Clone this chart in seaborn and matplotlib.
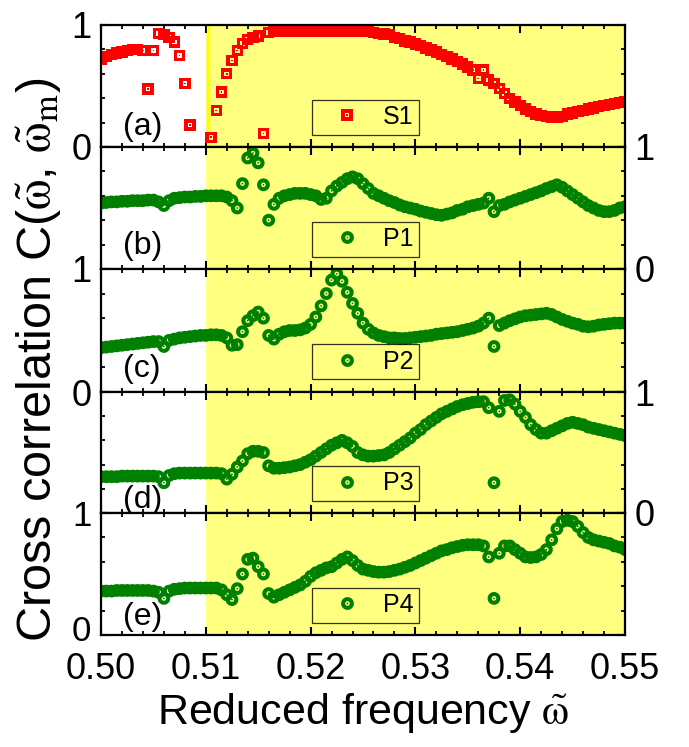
import numpy as np
import pandas as pd
import matplotlib
matplotlib.use("Agg")
import matplotlib.pyplot as plt
from matplotlib.path import Path
from matplotlib.lines import Line2D
from matplotlib.ticker import MultipleLocator, FixedLocator
from matplotlib.transforms import ScaledTranslation
import seaborn as sns

nan = np.nan

# frequency sweep grid (step 0.0005)
omega = np.linspace(0.50, 0.55, 101)

s1 = [0.72, 0.74, 0.76, 0.77, 0.78, 0.79, 0.80, 0.80, 0.79, 0.475,
      0.79, 0.93, 0.92, 0.90, 0.86, 0.75, 0.52, 0.18, nan, nan,
      nan, 0.08, 0.30, 0.45, 0.60, 0.71, 0.79, 0.85, 0.88, 0.90,
      0.91, 0.11, 0.94, 0.95, 0.95, 0.95, 0.95, 0.95, 0.95, 0.95,
      0.95, 0.95, 0.95, 0.95, 0.95, 0.95, 0.95, 0.95, 0.95, 0.95,
      0.95, 0.945, 0.94, 0.93, 0.925, 0.92, 0.90, 0.89, 0.87, 0.86,
      0.845, 0.83, 0.81, 0.795, 0.78, 0.76, 0.74, 0.72, 0.70, 0.68,
      0.655, 0.63, 0.56, 0.63, 0.55, 0.52, 0.48, 0.44, 0.40, 0.37,
      0.34, 0.31, 0.29, 0.27, 0.26, 0.25, 0.245, 0.24, 0.25, 0.27,
      0.28, 0.29, 0.30, 0.31, 0.32, 0.33, 0.34, 0.35, 0.355, 0.365,
      0.37]

p1 = [0.54, 0.545, 0.55, 0.55, 0.555, 0.555, 0.56, 0.56, 0.56, 0.565,
      0.565, 0.55, 0.52, 0.56, 0.58, 0.585, 0.59, 0.59, 0.595, 0.595,
      0.60, 0.60, 0.60, 0.60, 0.59, 0.56, 0.50, 0.70, 0.91, 0.95,
      0.87, 0.69, 0.40, 0.53, 0.58, 0.60, 0.61, 0.62, 0.62, 0.62,
      0.61, 0.60, 0.57, 0.58, 0.64, 0.68, 0.71, 0.74, 0.755, 0.74,
      0.70, 0.66, 0.62, 0.60, 0.58, 0.56, 0.545, 0.525, 0.51, 0.50,
      0.49, 0.475, 0.465, 0.455, 0.445, 0.44, 0.45, 0.46, 0.48, 0.49,
      0.51, 0.52, 0.53, 0.54, 0.58, 0.47, 0.52, 0.53, 0.55, 0.565,
      0.58, 0.595, 0.61, 0.625, 0.64, 0.66, 0.675, 0.69, 0.67, 0.64,
      0.61, 0.58, 0.55, 0.52, 0.50, 0.48, 0.47, 0.47, 0.48, 0.50,
      0.51]

p2 = [0.36, 0.365, 0.37, 0.375, 0.38, 0.385, 0.39, 0.395, 0.40, 0.405,
      0.41, 0.41, 0.37, 0.42, 0.43, 0.44, 0.445, 0.45, 0.455, 0.46,
      0.46, 0.465, 0.465, 0.46, 0.44, 0.38, 0.385, 0.49, 0.58, 0.62,
      0.65, 0.60, 0.46, 0.43, 0.47, 0.49, 0.50, 0.50, 0.505, 0.52,
      0.55, 0.61, 0.70, 0.80, 0.91, 0.96, 0.90, 0.81, 0.72, 0.64,
      0.56, 0.51, 0.48, 0.46, 0.45, 0.44, 0.44, 0.435, 0.435, 0.44,
      0.445, 0.45, 0.455, 0.46, 0.47, 0.475, 0.48, 0.485, 0.49, 0.50,
      0.51, 0.52, 0.535, 0.56, 0.60, 0.37, 0.54, 0.56, 0.58, 0.595,
      0.61, 0.62, 0.625, 0.63, 0.635, 0.64, 0.63, 0.61, 0.59, 0.575,
      0.56, 0.55, 0.535, 0.53, 0.535, 0.545, 0.55, 0.555, 0.56, 0.56,
      0.56]

p3 = [0.30, 0.30, 0.30, 0.30, 0.305, 0.305, 0.305, 0.305, 0.305, 0.305,
      0.305, 0.30, 0.25, 0.31, 0.325, 0.33, 0.33, 0.33, 0.33, 0.33,
      0.33, 0.33, 0.33, 0.325, 0.28, 0.32, 0.38, 0.43, 0.49, 0.51,
      0.51, 0.50, 0.39, 0.37, 0.37, 0.375, 0.38, 0.39, 0.40, 0.42,
      0.44, 0.47, 0.50, 0.53, 0.56, 0.58, 0.60, 0.58, 0.55, 0.50,
      0.48, 0.47, 0.47, 0.475, 0.48, 0.50, 0.53, 0.56, 0.59, 0.62,
      0.66, 0.69, 0.73, 0.76, 0.79, 0.82, 0.84, 0.86, 0.88, 0.895,
      0.905, 0.915, 0.92, 0.92, 0.87, 0.25, 0.84, 0.93, 0.935, 0.90,
      0.84, 0.79, 0.73, 0.69, 0.66, 0.66, 0.68, 0.70, 0.72, 0.74,
      0.75, 0.74, 0.73, 0.71, 0.70, 0.69, 0.68, 0.67, 0.66, 0.65,
      0.64]

p4 = [0.36, 0.36, 0.36, 0.365, 0.365, 0.365, 0.365, 0.365, 0.365, 0.365,
      0.36, 0.35, 0.30, 0.36, 0.375, 0.38, 0.385, 0.385, 0.385, 0.385,
      0.385, 0.385, 0.385, 0.37, 0.33, 0.29, 0.38, 0.50, 0.62, 0.63,
      0.56, 0.50, 0.34, 0.31, 0.33, 0.35, 0.37, 0.39, 0.41, 0.44,
      0.48, 0.51, 0.53, 0.55, 0.56, 0.59, 0.62, 0.64, 0.61, 0.57,
      0.54, 0.53, 0.52, 0.515, 0.515, 0.52, 0.53, 0.54, 0.555, 0.57,
      0.59, 0.61, 0.63, 0.65, 0.67, 0.69, 0.70, 0.715, 0.725, 0.735,
      0.74, 0.74, 0.74, 0.73, 0.64, 0.30, 0.67, 0.73, 0.73, 0.70,
      0.67, 0.64, 0.635, 0.64, 0.66, 0.70, 0.78, 0.87, 0.93, 0.94,
      0.93, 0.89, 0.84, 0.80, 0.78, 0.77, 0.76, 0.75, 0.73, 0.72,
      0.70]

series_names = ["S1", "P1", "P2", "P3", "P4"]
series_values = [s1, p1, p2, p3, p4]
panel_tags = ["(a)", "(b)", "(c)", "(d)", "(e)"]
xtick_labels = ["0.50", "0.51", "0.52", "0.53", "0.54", "0.55"]
ytick_labels = ["0", "1"]

RED = "#ff0000"
GREEN = "#008000"
SHADE = "#ffff80"


def dotted_marker(shape, hole=0.45, dot=0.18):
    """Filled outline marker with a hollow centre and a small centre dot."""
    if shape == "circle":
        t = np.linspace(0, 2 * np.pi, 72, endpoint=False)
        unit = np.column_stack([np.cos(t), np.sin(t)])
    else:
        unit = np.array([[1.0, 1.0], [-1.0, 1.0], [-1.0, -1.0], [1.0, -1.0]])
    verts, codes = [], []
    for poly in (unit, unit[::-1] * hole, unit * dot):
        verts += list(poly) + [poly[0]]
        codes += [Path.MOVETO] + [Path.LINETO] * (len(poly) - 1) + [Path.CLOSEPOLY]
    return Path(verts, codes)


square_mk = dotted_marker("square", hole=0.40, dot=0.14)
circle_mk = dotted_marker("circle", hole=0.36, dot=0.14)

sns.set_style("ticks")
plt.rcParams["font.family"] = ["Liberation Sans", "DejaVu Sans"]
plt.rcParams["mathtext.fontset"] = "stix"
for key in ("text.color", "axes.labelcolor", "xtick.color", "ytick.color",
            "xtick.labelcolor", "ytick.labelcolor"):
    plt.rcParams[key] = "black"

W, H = 689, 747
fig = plt.figure(figsize=(W / 100, H / 100), dpi=100)

ax_left, ax_right = 101, 625
edges = [25, 147, 269, 392, 513, 635]

label_y = [0.16, 0.19, 0.19, 0.11, 0.15]

for k, (name, vals) in enumerate(zip(series_names, series_values)):
    top, bot = edges[k], edges[k + 1]
    ax = fig.add_axes([ax_left / W, 1 - bot / H, (ax_right - ax_left) / W, (bot - top) / H])

    ax.axvspan(0.51, 0.55, color=SHADE, lw=0, zorder=0)
    if k == 0:
        ax.axvline(0.5102, color="#ffff00", lw=2.4, zorder=1)

    mk = square_mk if k == 0 else circle_mk
    col = RED if k == 0 else GREEN
    ms = 8.2 if k == 0 else 9.2
    df = pd.DataFrame({"omega": omega, "C": vals})
    sns.scatterplot(data=df, x="omega", y="C", marker=mk, s=ms ** 2,
                    color=col, edgecolor="none", linewidth=0, ax=ax, zorder=3)

    ax.set_xlim(0.50, 0.55)
    ax.set_ylim(0, 1)
    ax.set_xlabel("")
    ax.set_ylabel("")

    ax.xaxis.set_major_locator(MultipleLocator(0.01))
    ax.xaxis.set_minor_locator(MultipleLocator(0.002))
    ax.yaxis.set_major_locator(FixedLocator([0, 1]))
    ax.yaxis.set_minor_locator(MultipleLocator(0.2))
    ax.set_yticklabels(ytick_labels)

    ax.tick_params(which="both", direction="in", top=True, bottom=True,
                   left=True, right=True, labelsize=26, pad=7, color="black",
                   labelcolor="black")
    ax.tick_params(which="major", length=5.5, width=1.5)
    ax.tick_params(which="minor", length=3.2, width=1.3)
    labels_right = k in (1, 3)
    ax.tick_params(axis="y", labelleft=not labels_right, labelright=labels_right)
    if k < 4:
        ax.tick_params(axis="x", labelbottom=False)
    else:
        ax.set_xticks([0.50, 0.51, 0.52, 0.53, 0.54, 0.55])
        ax.set_xticklabels(xtick_labels)
        ax.tick_params(axis="x", pad=12)
        ax.tick_params(axis="y", labelsize=25)
        # nudge the bottom "0" up so it clears the 0.50 label
        zero_lbl = ax.get_yticklabels()[0]
        zero_lbl.set_transform(zero_lbl.get_transform()
                               + ScaledTranslation(0, 5 / 72, fig.dpi_scale_trans))

    for sp in ax.spines.values():
        sp.set_linewidth(1.6)
        sp.set_color("black")
        sp.set_zorder(5)

    ax.text(0.042, label_y[k], panel_tags[k], transform=ax.transAxes,
            fontsize=23, ha="left", va="center", zorder=6)

    handle = Line2D([], [], marker=mk, ls="", ms=ms, color=col, mew=0)
    leg = ax.legend([handle], [name], loc="center", bbox_to_anchor=(0.505, 0.245),
                    fontsize=18, frameon=True, fancybox=False, borderpad=0.22,
                    handlelength=2.3, handletextpad=0.3, borderaxespad=0)
    leg.get_frame().set_edgecolor("black")
    leg.get_frame().set_linewidth(0.9)
    leg.get_frame().set_facecolor("none")
    leg.set_zorder(6)

fig.text(0.527, 0.031, r"Reduced frequency $\tilde{\mathrm{\omega}}$",
         fontsize=31, ha="center", va="baseline")
fig.text(0.057, 0.518,
         r"Cross correlation C($\tilde{\mathrm{\omega}}$, $\tilde{\mathrm{\omega}}_\mathrm{m}$)",
         fontsize=35, rotation=90, ha="center", va="center")

fig.savefig("out.png", dpi=100)
